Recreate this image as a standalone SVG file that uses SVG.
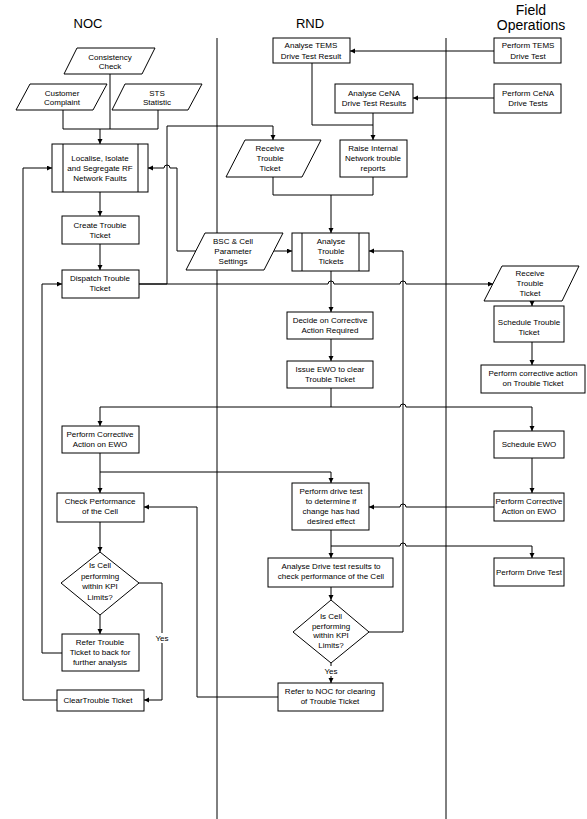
<svg xmlns="http://www.w3.org/2000/svg" width="587" height="819" viewBox="0 0 587 819">
<style>
.bg{fill:#fff}
.n{fill:#fff;stroke:#000;stroke-width:1}
.t{font-family:"Liberation Sans",Arial,sans-serif;font-size:8px;fill:#000;text-anchor:middle}
.h{font-family:"Liberation Sans",Arial,sans-serif;font-size:13px;fill:#000;text-anchor:middle}
.h2{font-family:"Liberation Sans",Arial,sans-serif;font-size:14px;fill:#000;text-anchor:middle}
.lane{stroke:#000;stroke-width:1;fill:none}
.c{fill:none;stroke:#000;stroke-width:1}
.a{fill:none;stroke:#000;stroke-width:1;marker-end:url(#ah)}
</style>
<defs>
<marker id="ah" markerUnits="userSpaceOnUse" markerWidth="6" markerHeight="6" refX="5" refY="2.5" orient="auto">
<path d="M0,0 L5,2.5 L0,5 z" fill="#000"/>
</marker>
</defs>
<rect class="bg" x="0" y="0" width="587" height="819"/>
<g id="lanes">
<line class="lane" x1="217" y1="38" x2="217" y2="819"/>
<line class="lane" x1="446" y1="38" x2="446" y2="819"/>
<text class="h" x="88" y="28">NOC</text>
<text class="h" x="310" y="28">RND</text>
<text class="h2" x="531" y="15">Field</text>
<text class="h2" x="531" y="30">Operations</text>
</g>
<g id="connectors">
<polyline class="c" points="63,110 63,129 158,129 158,110"/>
<line class="c" x1="110" y1="74" x2="110" y2="129"/>
<line class="a" x1="100" y1="129" x2="100" y2="144"/>
<line class="a" x1="100" y1="192" x2="100" y2="216"/>
<line class="a" x1="100" y1="244" x2="100" y2="270"/>
<polyline class="a" points="139,284 167,284 167,126 273,126 273,140"/>
<path class="a" d="M139,284 L328,284 A3,3 0 0 1 334,284 L400,284 A3,3 0 0 1 406,284 L493,284"/>
<path class="a" d="M196,251 L177,251 L177,168 L170,168 A3,3 0 0 0 164,168 L148,168"/>
<line class="a" x1="274" y1="251" x2="292" y2="251"/>
<line class="a" x1="494" y1="51" x2="350" y2="51"/>
<line class="a" x1="494" y1="98" x2="413" y2="98"/>
<polyline class="a" points="312,63 312,125 373,125 373,140"/>
<line class="c" x1="373" y1="113" x2="373" y2="125"/>
<polyline class="c" points="273,177 273,195 373,195 373,177"/>
<line class="a" x1="331" y1="195" x2="331" y2="233"/>
<line class="a" x1="331" y1="271" x2="331" y2="312"/>
<line class="a" x1="331" y1="339" x2="331" y2="361"/>
<polyline class="a" points="331,388 331,407 100,407 100,426"/>
<path class="a" d="M331,407 L400,407 A3,3 0 0 1 406,407 L532,407 L532,431"/>
<line class="a" x1="532" y1="300" x2="532" y2="306"/>
<line class="a" x1="532" y1="342" x2="532" y2="365"/>
<line class="a" x1="100" y1="453" x2="100" y2="493"/>
<polyline class="a" points="100,472 331,472 331,483"/>
<line class="a" x1="532" y1="458" x2="532" y2="493"/>
<path class="a" d="M494,507 L406,507 A3,3 0 0 0 400,507 L369,507"/>
<line class="a" x1="331" y1="530" x2="331" y2="558"/>
<path class="a" d="M331,546 L400,546 A3,3 0 0 1 406,546 L532,546 L532,558"/>
<line class="a" x1="331" y1="587" x2="331" y2="600"/>
<polyline class="a" points="369,632 403,632 403,251 369,251"/>
<line class="a" x1="331" y1="663" x2="331" y2="683"/>
<polyline class="a" points="278,697 197,697 197,507 144,507"/>
<line class="a" x1="100" y1="522" x2="100" y2="552"/>
<polyline class="a" points="139,583 162,583 162,700 144,700"/>
<line class="a" x1="100" y1="615" x2="100" y2="634"/>
<polyline class="a" points="62,653 42,653 42,284 62,284"/>
<polyline class="a" points="57,700 23,700 23,168 52,168"/>
<rect class="bg" x="154" y="633" width="16" height="10"/>
<text class="t" x="162" y="641">Yes</text>
<rect class="bg" x="323" y="666" width="16" height="10"/>
<text class="t" x="331" y="674">Yes</text>
</g>
<g id="consistency">
<polygon class="n" points="77,48 155,48 142,74 64,74"/>
<text class="t" x="110" y="60">Consistency</text>
<text class="t" x="110" y="69">Check</text>
</g>
<g id="customer">
<polygon class="n" points="30,84 107,84 93,110 16,110"/>
<text class="t" x="62" y="96">Customer</text>
<text class="t" x="62" y="105">Complaint</text>
</g>
<g id="sts">
<polygon class="n" points="125,84 202,84 188,110 112,110"/>
<text class="t" x="157" y="96">STS</text>
<text class="t" x="157" y="105">Statistic</text>
</g>
<g id="localise">
<rect class="n" x="52" y="144" width="96" height="48"/>
<line class="c" x1="63" y1="144" x2="63" y2="192"/>
<line class="c" x1="138" y1="144" x2="138" y2="192"/>
<text class="t" x="100" y="161">Localise, Isolate</text>
<text class="t" x="100" y="171">and Segregate RF</text>
<text class="t" x="100" y="181">Network Faults</text>
</g>
<g id="create">
<rect class="n" x="62" y="216" width="77" height="28"/>
<text class="t" x="100" y="228">Create Trouble</text>
<text class="t" x="100" y="238">Ticket</text>
</g>
<g id="dispatch">
<rect class="n" x="62" y="270" width="77" height="28"/>
<text class="t" x="100" y="281">Dispatch Trouble</text>
<text class="t" x="100" y="291">Ticket</text>
</g>
<g id="noc-corrective">
<rect class="n" x="62" y="426" width="77" height="27"/>
<text class="t" x="100" y="437">Perform Corrective</text>
<text class="t" x="100" y="447">Action on EWO</text>
</g>
<g id="check-performance">
<rect class="n" x="57" y="493" width="87" height="29"/>
<text class="t" x="100" y="504">Check Performance</text>
<text class="t" x="100" y="514">of the Cell</text>
</g>
<g id="noc-decision">
<polygon class="n" points="100,552 139,583 100,615 61,583"/>
<text class="t" x="100" y="568">Is Cell</text>
<text class="t" x="100" y="578.5">performing</text>
<text class="t" x="100" y="589">within KPI</text>
<text class="t" x="100" y="599.5">Limits?</text>
</g>
<g id="noc-refer">
<rect class="n" x="62" y="634" width="77" height="37"/>
<text class="t" x="100" y="645">Refer Trouble</text>
<text class="t" x="100" y="655">Ticket to back for</text>
<text class="t" x="100" y="665">further analysis</text>
</g>
<g id="clear">
<rect class="n" x="57" y="690" width="87" height="21"/>
<text class="t" x="98" y="703">ClearTrouble Ticket</text>
</g>
<g id="analyse-tems">
<rect class="n" x="273" y="38" width="77" height="25"/>
<text class="t" x="311" y="48">Analyse TEMS</text>
<text class="t" x="311" y="59">Drive Test Result</text>
</g>
<g id="analyse-cena">
<rect class="n" x="335" y="84" width="78" height="29"/>
<text class="t" x="374" y="96">Analyse CeNA</text>
<text class="t" x="374" y="106">Drive Test Results</text>
</g>
<g id="rnd-receive">
<polygon class="n" points="245,140 321,140 302,177 226,177"/>
<text class="t" x="270" y="151">Receive</text>
<text class="t" x="270" y="161">Trouble</text>
<text class="t" x="270" y="171">Ticket</text>
</g>
<g id="raise">
<rect class="n" x="340" y="140" width="67" height="37"/>
<text class="t" x="373" y="151">Raise Internal</text>
<text class="t" x="373" y="161">Network trouble</text>
<text class="t" x="373" y="171">reports</text>
</g>
<g id="analyse-tt">
<rect class="n" x="292" y="233" width="77" height="38"/>
<line class="c" x1="302" y1="233" x2="302" y2="271"/>
<line class="c" x1="359" y1="233" x2="359" y2="271"/>
<text class="t" x="331" y="244">Analyse</text>
<text class="t" x="331" y="254">Trouble</text>
<text class="t" x="331" y="264">Tickets</text>
</g>
<g id="bsc">
<polygon class="n" points="205,233 283,233 264,270 186,270"/>
<text class="t" x="233" y="244">BSC &amp; Cell</text>
<text class="t" x="233" y="254">Parameter</text>
<text class="t" x="233" y="264">Settings</text>
</g>
<g id="decide">
<rect class="n" x="287" y="312" width="86" height="27"/>
<text class="t" x="330" y="323">Decide on Corrective</text>
<text class="t" x="330" y="333">Action Required</text>
</g>
<g id="issue-ewo">
<rect class="n" x="287" y="361" width="86" height="27"/>
<text class="t" x="330" y="372">Issue EWO to clear</text>
<text class="t" x="330" y="382">Trouble Ticket</text>
</g>
<g id="rnd-drive-test">
<rect class="n" x="292" y="483" width="77" height="47"/>
<text class="t" x="331" y="494">Perform drive test</text>
<text class="t" x="331" y="504">to determine if</text>
<text class="t" x="331" y="514">change has had</text>
<text class="t" x="331" y="524">desired effect</text>
</g>
<g id="analyse-drive">
<rect class="n" x="268" y="558" width="125" height="29"/>
<text class="t" x="331" y="569">Analyse Drive test results to</text>
<text class="t" x="331" y="579">check performance of the Cell</text>
</g>
<g id="rnd-decision">
<polygon class="n" points="331,600 369,632 331,663 293,632"/>
<text class="t" x="331" y="619">Is Cell</text>
<text class="t" x="331" y="628.5">performing</text>
<text class="t" x="331" y="638">within KPI</text>
<text class="t" x="331" y="647.5">Limits?</text>
</g>
<g id="rnd-refer">
<rect class="n" x="278" y="683" width="105" height="28"/>
<text class="t" x="330" y="694">Refer to NOC for clearing</text>
<text class="t" x="330" y="704">of Trouble Ticket</text>
</g>
<g id="fo-tems">
<rect class="n" x="494" y="38" width="67" height="25"/>
<text class="t" x="528" y="48">Perform TEMS</text>
<text class="t" x="528" y="59">Drive Test</text>
</g>
<g id="fo-cena">
<rect class="n" x="494" y="84" width="67" height="29"/>
<text class="t" x="528" y="96">Perform CeNA</text>
<text class="t" x="528" y="106">Drive Tests</text>
</g>
<g id="fo-receive">
<polygon class="n" points="502,266 579,266 562,301 484,301"/>
<text class="t" x="530" y="276">Receive</text>
<text class="t" x="530" y="286">Trouble</text>
<text class="t" x="530" y="296">Ticket</text>
</g>
<g id="fo-schedule-tt">
<rect class="n" x="494" y="306" width="70" height="36"/>
<text class="t" x="529" y="325">Schedule Trouble</text>
<text class="t" x="529" y="335">Ticket</text>
</g>
<g id="fo-corrective-tt">
<rect class="n" x="481" y="365" width="104" height="28"/>
<text class="t" x="533" y="376">Perform corrective action</text>
<text class="t" x="533" y="386">on Trouble Ticket</text>
</g>
<g id="fo-schedule-ewo">
<rect class="n" x="494" y="431" width="70" height="27"/>
<text class="t" x="529" y="447">Schedule EWO</text>
</g>
<g id="fo-corrective-ewo">
<rect class="n" x="494" y="493" width="70" height="28"/>
<text class="t" x="529" y="504">Perform Corrective</text>
<text class="t" x="529" y="514">Action on EWO</text>
</g>
<g id="fo-drive-test">
<rect class="n" x="494" y="558" width="70" height="28"/>
<text class="t" x="529" y="575">Perform Drive Test</text>
</g>
</svg>
